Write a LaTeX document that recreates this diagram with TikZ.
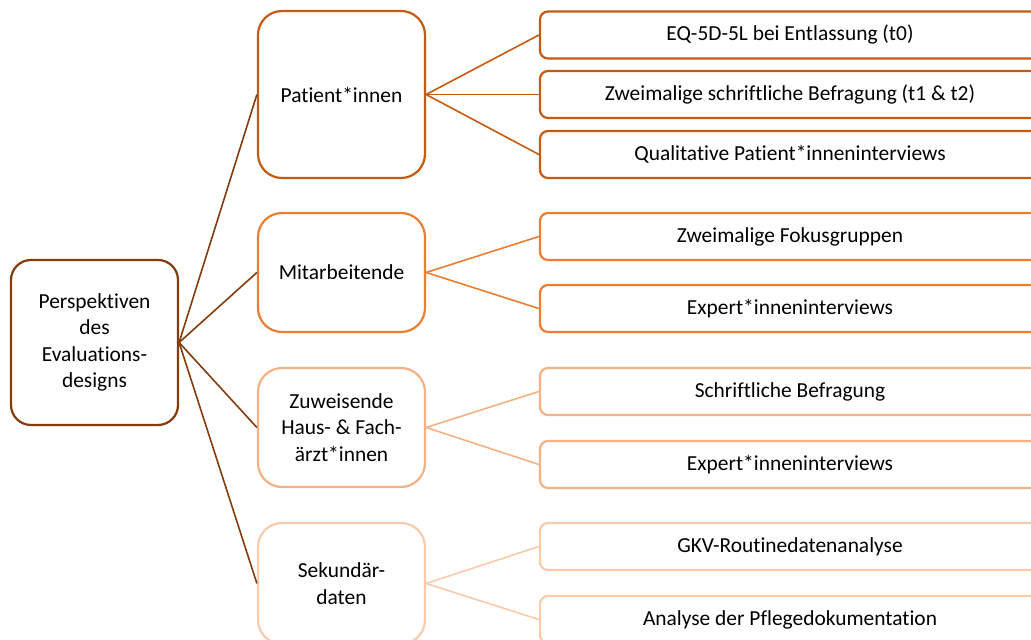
\documentclass[tikz,border=0pt]{standalone}
\usepackage{fontspec}
\setmainfont{Carlito}[Ligatures=NoCommon]
\definecolor{rootc}{HTML}{843C0C}
\definecolor{ca}{HTML}{C55A11}
\definecolor{cb}{HTML}{ED7D31}
\definecolor{cc}{HTML}{F4B183}
\definecolor{cd}{HTML}{F8CBAD}
\tikzset{
  txt/.style={font=\fontsize{21.5}{26.5}\selectfont, align=center, text=black},
  rootbox/.style={txt, draw=rootc, line width=2.2bp, rounded corners=20bp, fill=white,
    minimum width=167bp, minimum height=165bp, inner sep=0pt},
  catbox/.style={txt, draw=#1, line width=2.2bp, rounded corners=24bp, fill=white,
    minimum width=167bp, inner sep=0pt},
  leafbox/.style={txt, draw=#1, line width=2.2bp, rounded corners=8bp, fill=white,
    minimum width=500bp, minimum height=47bp, inner sep=0pt},
  link/.style={draw=#1, line width=1.6bp},
}
\begin{document}
\begin{tikzpicture}[x=1bp, y=-1bp]
  \useasboundingbox (0,0) rectangle (1031,640);
  \clip (0,0) rectangle (1031,640);

  % root
  \node[rootbox] (root) at (94.5,342.5) {Perspektiven\\des\\Evaluations-\\designs};

  % perspectives
  \node[catbox=ca, minimum height=167bp] (pat) at (341.5,94.5) {Patient*innen};
  \node[catbox=cb, minimum height=119bp] (mit) at (341.5,272.5) {Mitarbeitende};
  \node[catbox=cc, minimum height=119bp] (zuw) at (341.5,427.5) {Zuweisende\\Haus- \& Fach-\\ärzt*innen};
  \node[catbox=cd, minimum height=121bp] (sek) at (341.5,583.5) {Sekundär-\\daten};

  % methods
  \node[leafbox=ca] (p1) at (790,35)  {EQ-5D-5L bei Entlassung (t0)};
  \node[leafbox=ca] (p2) at (790,94.5) {Zweimalige schriftliche Befragung (t1 \& t2)};
  \node[leafbox=ca] (p3) at (790,154.5) {Qualitative Patient*inneninterviews};
  \node[leafbox=cb] (m1) at (790,236.5) {Zweimalige Fokusgruppen};
  \node[leafbox=cb] (m2) at (790,308.5) {Expert*inneninterviews};
  \node[leafbox=cc] (z1) at (790,391.5) {Schriftliche Befragung};
  \node[leafbox=cc] (z2) at (790,464.5) {Expert*inneninterviews};
  \node[leafbox=cd] (s1) at (790,546.5) {GKV-Routinedatenanalyse};
  \node[leafbox=cd] (s2) at (790,619.5) {Analyse der Pflegedokumentation};

  % connectors
  \draw[link=rootc] (root.east) -- (pat.west);
  \draw[link=rootc] (root.east) -- (mit.west);
  \draw[link=rootc] (root.east) -- (zuw.west);
  \draw[link=rootc] (root.east) -- (sek.west);
  \draw[link=ca] (pat.east) -- (p1.west);
  \draw[link=ca] (pat.east) -- (p2.west);
  \draw[link=ca] (pat.east) -- (p3.west);
  \draw[link=cb] (mit.east) -- (m1.west);
  \draw[link=cb] (mit.east) -- (m2.west);
  \draw[link=cc] (zuw.east) -- (z1.west);
  \draw[link=cc] (zuw.east) -- (z2.west);
  \draw[link=cd] (sek.east) -- (s1.west);
  \draw[link=cd] (sek.east) -- (s2.west);
\end{tikzpicture}
\end{document}
